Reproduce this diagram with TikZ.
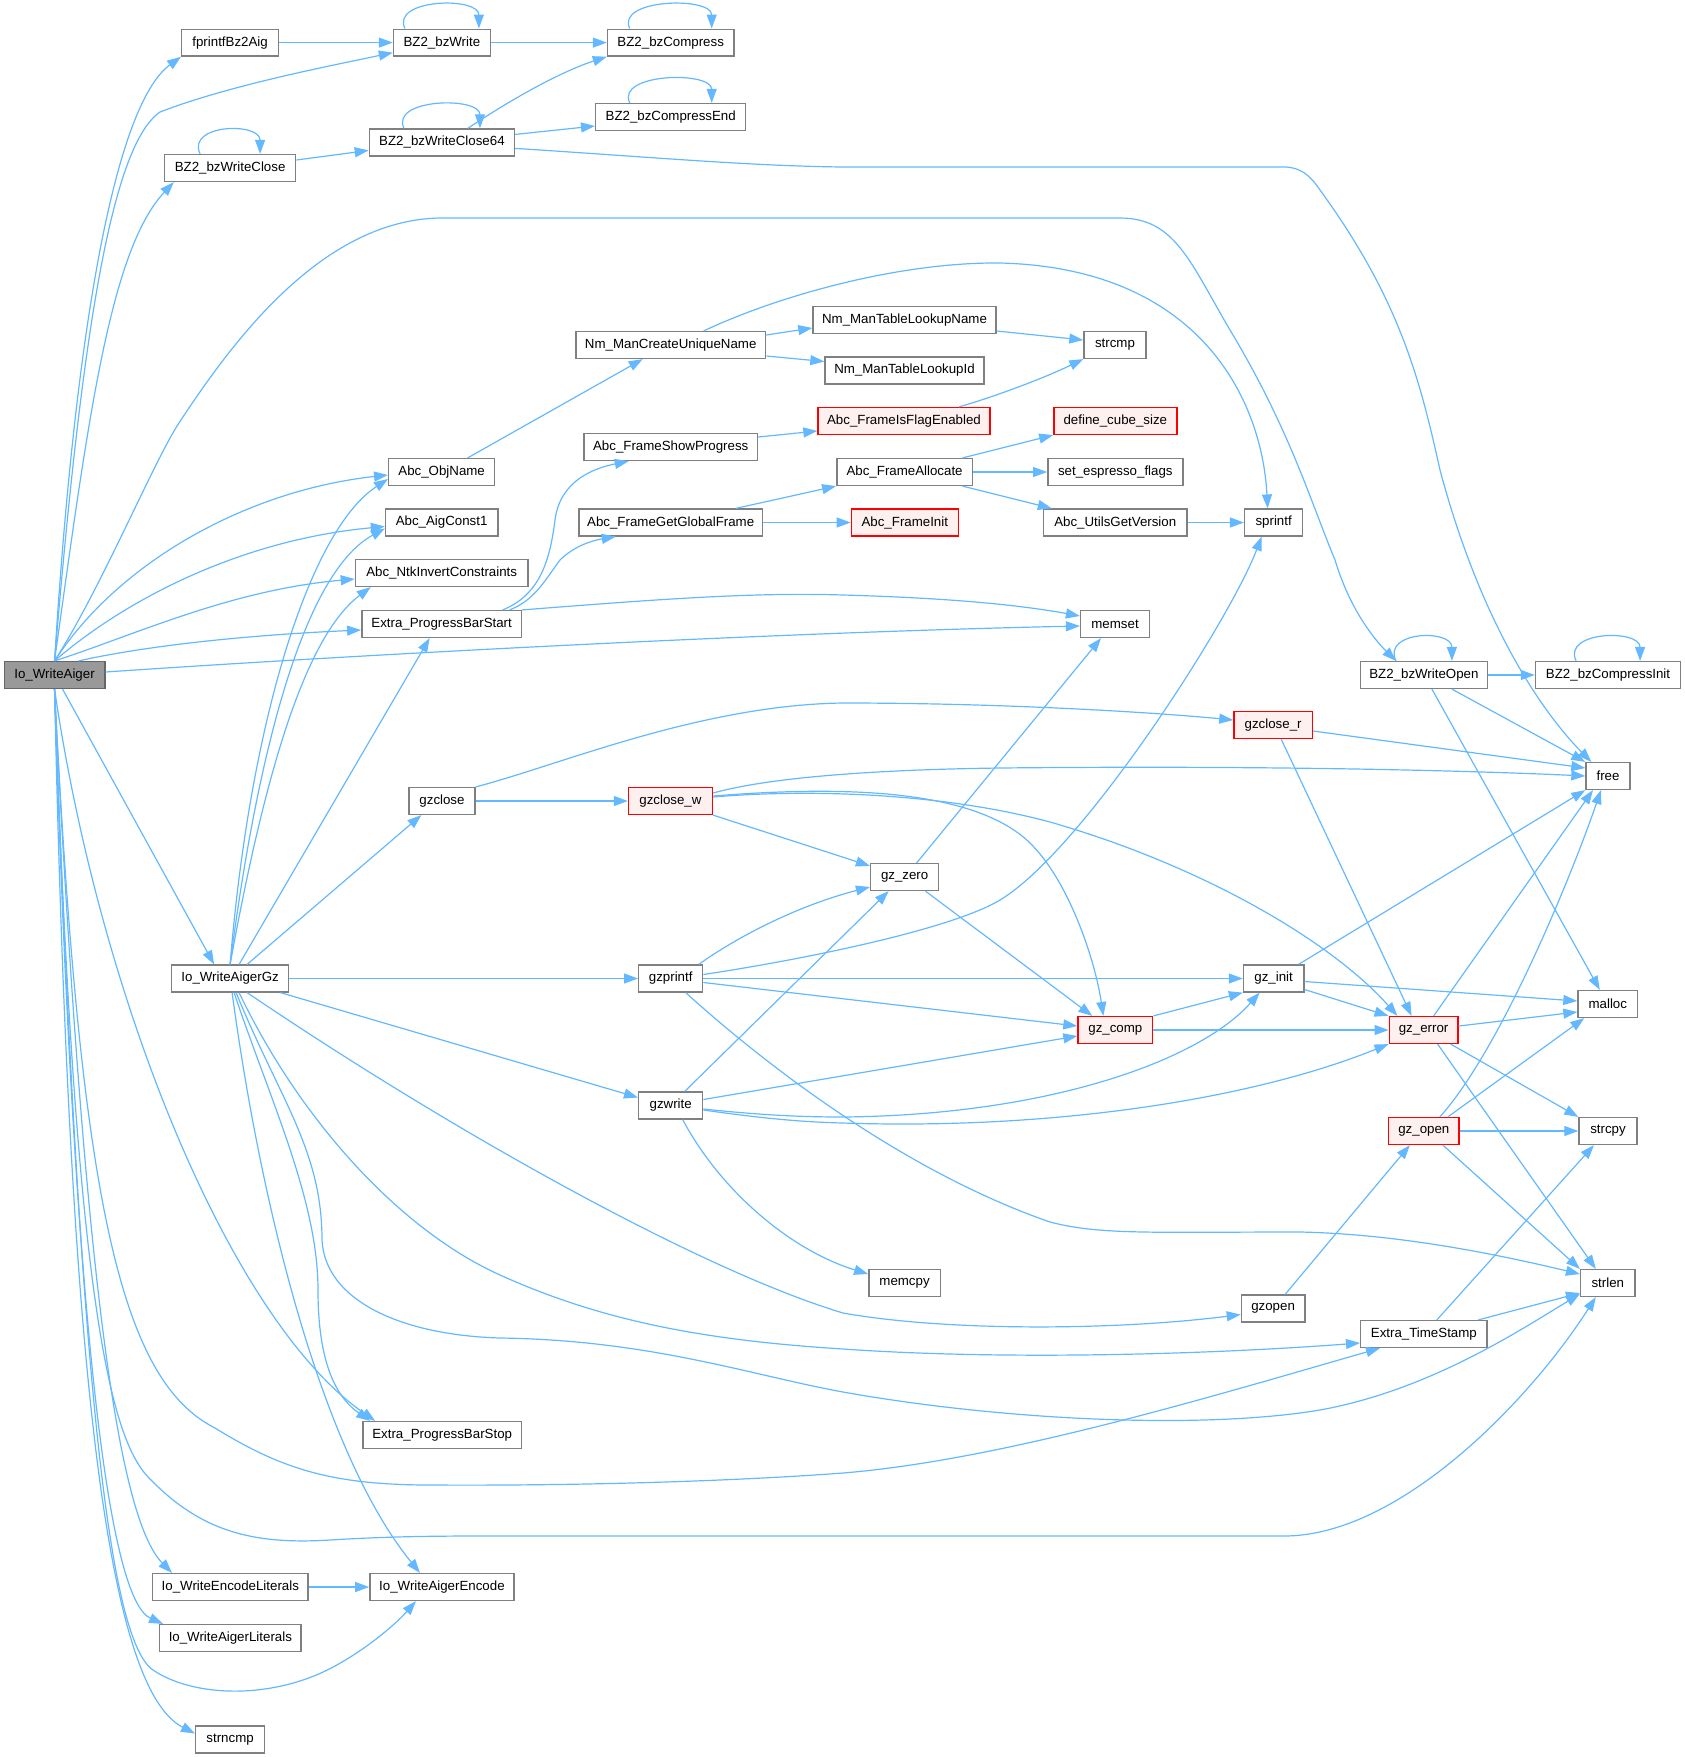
\documentclass[tikz,border=0pt]{standalone}
\usepackage{fontspec}
\setmainfont{Liberation Sans}
\usetikzlibrary{arrows.meta}
\definecolor{edgec}{HTML}{63B8FF}
\definecolor{boxc}{HTML}{808080}
\definecolor{rootfill}{HTML}{999999}
\definecolor{rootdraw}{HTML}{666666}
\definecolor{redfill}{HTML}{FFF0F0}
\definecolor{reddraw}{HTML}{FF0000}
\tikzset{
  fn/.style={draw=boxc, line width=0.7pt, fill=white, rectangle, minimum height=13.4pt, inner sep=0pt,
    font=\fontsize{6.65pt}{8pt}\selectfont},
  fnred/.style={fn, draw=reddraw, fill=redfill},
  fnroot/.style={fn, draw=rootdraw, fill=rootfill},
  ca/.style={draw=edgec, line width=0.6pt, -{Triangle[length=7pt,width=5pt]}},
}
\newcommand\fnode[6]{\node[#1, minimum width={(#4-#3)*0.5pt}] (#2) at ({(#3+#4)/2},#5) {#6};}
\newcommand\selfloop[2]{\draw[ca] ([xshift=-#2]#1.north) .. controls +(-7pt,15pt) and +(0pt,16pt) .. ([xshift=#2]#1.north);}
\begin{document}
\begin{tikzpicture}[x=0.5pt,y=-0.5pt]
\useasboundingbox (0,0) rectangle (1685,1757);
% nodes
\fnode{fnroot}{root}{4.3}{104.8}{675}{Io\_WriteAiger}
\fnode{fn}{fpr}{181.7}{278.5}{42.6}{fprintfBz2Aig}
\fnode{fn}{bzw}{393.5}{490.3}{42.6}{BZ2\_bzWrite}
\fnode{fn}{bzc}{607.5}{733.9}{42.6}{BZ2\_bzCompress}
\fnode{fn}{bzce}{595.7}{745.7}{117}{BZ2\_bzCompressEnd}
\fnode{fn}{bzwc64}{369.4}{514.5}{142.4}{BZ2\_bzWriteClose64}
\fnode{fn}{bzwc}{164.5}{295.7}{168}{BZ2\_bzWriteClose}
\fnode{fn}{nmcu}{575.8}{765.6}{345}{Nm\_ManCreateUniqueName}
\fnode{fn}{nmtln}{813}{996}{320}{Nm\_ManTableLookupName}
\fnode{fn}{nmtli}{825}{984}{370.5}{Nm\_ManTableLookupId}
\fnode{fn}{strcmp}{1084}{1146}{345}{strcmp}
\fnode{fnred}{isflag}{818}{990}{421}{Abc\_FrameIsFlagEnabled}
\fnode{fnred}{cube}{1053.8}{1176.9}{421}{define\_cube\_size}
\fnode{fn}{showp}{583.9}{757.5}{447}{Abc\_FrameShowProgress}
\fnode{fn}{objname}{388.7}{494.6}{472}{Abc\_ObjName}
\fnode{fn}{alloc}{836.8}{972.4}{472}{Abc\_FrameAllocate}
\fnode{fn}{espresso}{1047.8}{1182.8}{472}{set\_espresso\_flags}
\fnode{fn}{getglob}{579}{762.4}{522.5}{Abc\_FrameGetGlobalFrame}
\fnode{fn}{aigc1}{385.5}{497.8}{522.5}{Abc\_AigConst1}
\fnode{fnred}{finit}{851.4}{958.2}{522.5}{Abc\_FrameInit}
\fnode{fn}{utils}{1043.5}{1187}{522.5}{Abc\_UtilsGetVersion}
\fnode{fn}{sprintf}{1244.6}{1302.7}{522.5}{sprintf}
\fnode{fn}{ntkinv}{355.4}{528}{573}{Abc\_NtkInvertConstraints}
\fnode{fn}{pbstart}{361.8}{521.5}{624}{Extra\_ProgressBarStart}
\fnode{fn}{memset}{1080.6}{1149.5}{624}{memset}
\fnode{fn}{bzwo}{1360.2}{1487.6}{675}{BZ2\_bzWriteOpen}
\fnode{fn}{bzci}{1535.5}{1680.6}{675}{BZ2\_bzCompressInit}
\fnode{fnred}{gzcr}{1233.9}{1312.4}{725}{gzclose\_r}
\fnode{fn}{free}{1586}{1630}{776}{free}
\fnode{fn}{gzclose}{409}{475}{801}{gzclose}
\fnode{fnred}{gzcw}{628.5}{712.4}{801}{gzclose\_w}
\fnode{fn}{gzzero}{870.6}{938.7}{877}{gz\_zero}
\fnode{fn}{iogz}{171.5}{288.7}{978.5}{Io\_WriteAigerGz}
\fnode{fn}{gzprintf}{638.7}{702.7}{978.5}{gzprintf}
\fnode{fn}{gzinit}{1243.5}{1303.8}{978.5}{gz\_init}
\fnode{fn}{malloc}{1578}{1637.6}{1004}{malloc}
\fnode{fnred}{gzcomp}{1078}{1152.7}{1030}{gz\_comp}
\fnode{fnred}{gzerror}{1389.2}{1458}{1030}{gz\_error}
\fnode{fn}{gzwrite}{638.7}{702.7}{1105.5}{gzwrite}
\fnode{fnred}{gzopenb}{1388.7}{1459}{1131}{gz\_open}
\fnode{fn}{strcpy}{1579}{1637}{1131}{strcpy}
\fnode{fn}{memcpy}{868.8}{940.3}{1283}{memcpy}
\fnode{fn}{strlen}{1580.6}{1635}{1283}{strlen}
\fnode{fn}{gzopen}{1241.4}{1304.8}{1308.5}{gzopen}
\fnode{fn}{timestamp}{1360.7}{1487}{1334}{Extra\_TimeStamp}
\fnode{fn}{pbstop}{362.9}{521.5}{1435}{Extra\_ProgressBarStop}
\fnode{fn}{encl}{152.7}{308}{1587}{Io\_WriteEncodeLiterals}
\fnode{fn}{aigenc}{369.9}{514}{1587}{Io\_WriteAigerEncode}
\fnode{fn}{aiglit}{159.7}{301}{1638}{Io\_WriteAigerLiterals}
\fnode{fn}{strncmp}{195.7}{264.5}{1739.5}{strncmp}
% root edges (upwards)
\draw[ca] (root.north) .. controls (75,330) and (115,105) .. (fpr.south west);
\draw[ca] (root.north) .. controls (82,330) and (112,145) .. (160,112) .. controls (230,85) and (330,66) .. ([yshift=-5pt]bzw.west);
\draw[ca] (root.north) .. controls (88,420) and (110,250) .. ([xshift=5pt]bzwc.south west);
\draw[ca] (root.north) .. controls (100,590) and (150,470) .. (177,426) .. controls (230,345) and (320,220) .. (440,218) -- (1120,218) .. controls (1175,218) and (1190,262) .. (1230,330) .. controls (1290,430) and (1310,500) .. (1335,560) .. controls (1350,610) and (1375,640) .. ([xshift=-14pt]bzwo.north);
\draw[ca] (root.north) .. controls (120,560) and (250,490) .. ([yshift=-1.5pt]objname.west);
\draw[ca] (root.north) .. controls (125,600) and (240,540) .. ([yshift=-2pt]aigc1.west);
\draw[ca] (root.north) .. controls (135,635) and (230,590) .. ([yshift=-3pt]ntkinv.west);
\draw[ca] ([xshift=12pt]root.north) .. controls (150,645) and (250,635) .. ([yshift=-3pt]pbstart.west);
\draw[ca] ([yshift=1.5pt]root.east) .. controls (400,652) and (800,632) .. ([yshift=-1pt]memset.west);
% root edges (downwards)
\draw[ca] ([xshift=4pt]root.south) -- ([xshift=-8pt]iogz.north);
\draw[ca] (root.south) .. controls (100,1000) and (230,1320) .. ([xshift=6.5pt]pbstop.north west);
\draw[ca] (root.south) .. controls (80,1200) and (120,1380) .. (215,1428) .. controls (280,1468) and (330,1485) .. (430,1485) .. controls (600,1486) and (750,1480) .. (843,1473) .. controls (1000,1460) and (1200,1400) .. ([xshift=10pt]timestamp.south west);
\draw[ca] (root.south) .. controls (75,1300) and (110,1440) .. (150,1479) .. controls (200,1530) and (250,1545) .. (330,1540) .. controls (380,1537) and (420,1536) .. (480,1536) -- (1284,1536) .. controls (1400,1536) and (1530,1400) .. ([xshift=-6pt]strlen.south);
\draw[ca] (root.south) .. controls (85,1300) and (120,1520) .. ([xshift=10pt]encl.north west);
\draw[ca] (root.south) .. controls (75,1350) and (110,1600) .. ([xshift=2pt]aiglit.north west);
\draw[ca] (root.south) .. controls (80,1400) and (110,1640) .. (153,1670) .. controls (190,1695) and (260,1700) .. (321,1673) .. controls (360,1655) and (395,1625) .. ([xshift=-13pt]aigenc.south);
\draw[ca] (root.south) .. controls (70,1400) and (110,1690) .. ([yshift=3pt]strncmp.west);
% Io_WriteAigerGz edges
\draw[ca] (iogz.north) .. controls (250,720) and (310,530) .. ([yshift=-3.5pt]objname.west);
\draw[ca] (iogz.north) .. controls (255,770) and (300,575) .. ([yshift=-3pt]aigc1.west);
\draw[ca] (iogz.north) .. controls (260,800) and (300,640) .. ([xshift=8pt]ntkinv.south west);
\draw[ca] ([xshift=4.5pt]iogz.north) -- ([xshift=-6pt]pbstart.south);
\draw[ca] ([xshift=8.5pt]iogz.north) -- ([xshift=6.5pt]gzclose.south west);
\draw[ca] (iogz.east) -- (gzprintf.west);
\draw[ca] ([xshift=-4.5pt]iogz.south east) -- ([yshift=4pt]gzwrite.west);
\draw[ca] ([xshift=8.5pt]iogz.south) .. controls (450,1130) and (700,1270) .. (843,1313) .. controls (950,1332) and (1120,1330) .. ([yshift=-3pt]gzopen.west);
\draw[ca] ([xshift=4.5pt]iogz.south) .. controls (300,1120) and (400,1230) .. (500,1275) .. controls (600,1320) and (700,1340) .. (843,1349) .. controls (1000,1360) and (1200,1355) .. ([yshift=-4.5pt]timestamp.west);
\draw[ca] ([xshift=3pt]iogz.south) .. controls (280,1100) and (322,1150) .. (322,1240) .. controls (325,1300) and (400,1335) .. (500,1338) .. controls (650,1340) and (750,1375) .. (843,1392) .. controls (1000,1420) and (1200,1430) .. (1320,1410) .. controls (1430,1390) and (1520,1330) .. ([yshift=-5.5pt]strlen.west);
\draw[ca] ([xshift=2pt]iogz.south) .. controls (270,1100) and (318,1200) .. (318,1290) .. controls (318,1370) and (340,1400) .. ([xshift=4pt]pbstop.north west);
\draw[ca] ([xshift=1pt]iogz.south) .. controls (260,1200) and (320,1450) .. ([xshift=-11pt]aigenc.north);
% bz2 part
\draw[ca] (fpr.east) -- (bzw.west);
\draw[ca] (bzw.east) -- (bzc.west);
\draw[ca] ([yshift=4pt]bzwc.east) -- ([yshift=-4pt]bzwc64.west);
\draw[ca] ([xshift=13pt]bzwc64.north) .. controls (510,100) and (560,72) .. (bzc.south west);
\draw[ca] ([yshift=4pt]bzwc64.east) -- ([yshift=-4.5pt]bzce.west);
\draw[ca] ([yshift=-3pt]bzwc64.east) .. controls (650,157) and (750,166) .. (843,167) -- (1284,167) .. controls (1300,167) and (1310,175) .. (1320,190) .. controls (1400,300) and (1420,380) .. (1440,470) .. controls (1480,620) and (1540,710) .. ([xshift=3pt]free.north west);
\draw[ca] (bzwo.east) -- (bzci.west);
\draw[ca] ([xshift=14pt]bzwo.south) -- (free.north west);
\draw[ca] ([xshift=4pt]bzwo.south) -- ([xshift=-4pt]malloc.north);
\selfloop{bzw}{18.5pt}
\selfloop{bzc}{20.5pt}
\selfloop{bzce}{20.5pt}
\selfloop{bzwc}{15pt}
\selfloop{bzwc64}{19pt}
\selfloop{bzwo}{14pt}
\selfloop{bzci}{16pt}
% Abc part
\draw[ca] ([xshift=13pt]objname.north) -- ([xshift=-14pt]nmcu.south);
\draw[ca] ([yshift=5pt]nmcu.east) -- ([yshift=-4pt]nmtln.west);
\draw[ca] ([yshift=-5.5pt]nmcu.east) -- ([yshift=4.5pt]nmtli.west);
\draw[ca] ([xshift=16.5pt]nmcu.north) .. controls (780,295) and (900,262) .. (1000,263) .. controls (1200,268) and (1262,400) .. ([xshift=-3pt]sprintf.north);
\draw[ca] ([yshift=-5.5pt]nmtln.east) -- ([yshift=2.5pt]strcmp.west);
\draw[ca] ([xshift=27.5pt]isflag.north) .. controls (990,398) and (1040,380) .. (strcmp.south west);
\draw[ca] ([yshift=5pt]showp.east) -- ([yshift=-5pt]isflag.west);
\draw[ca] ([xshift=32.5pt]getglob.north) -- (alloc.south west);
\draw[ca] (getglob.east) -- (finit.west);
\draw[ca] ([xshift=29pt]alloc.north) -- (cube.south west);
\draw[ca] (alloc.east) -- (espresso.west);
\draw[ca] ([xshift=29pt]alloc.south) -- ([xshift=4.5pt]utils.north west);
\draw[ca] (utils.east) -- (sprintf.west);
\draw[ca] ([xshift=30.5pt]pbstart.north) .. controls (540,595) and (550,560) .. (555,520) .. controls (560,480) and (595,468) .. ([xshift=-21pt]showp.south);
\draw[ca] ([xshift=34pt]pbstart.north) .. controls (535,600) and (545,580) .. (560,560) .. controls (575,545) and (595,540) .. ([xshift=-27.5pt]getglob.south);
\draw[ca] (pbstart.north east) .. controls (650,600) and (750,592) .. (843,595) .. controls (950,598) and (1020,605) .. ([yshift=4pt]memset.west);
% gz part
\draw[ca] (gzclose.east) -- (gzcw.west);
\draw[ca] (gzclose.north east) .. controls (560,765) and (700,705) .. (843,703) .. controls (1000,703) and (1150,712) .. ([yshift=2.5pt]gzcr.west);
\draw[ca] ([yshift=-3pt]gzcr.east) -- ([yshift=4pt]free.west);
\draw[ca] ([xshift=4pt]gzcr.south) -- ([xshift=-6pt]gzerror.north);
\draw[ca] ([yshift=4pt]gzcw.east) .. controls (760,780) and (850,770) .. (1000,768) .. controls (1300,765) and (1500,772) .. (free.west);
\draw[ca] (gzcw.south east) -- ([yshift=-1.5pt]gzzero.north west);
\draw[ca] ([yshift=2.5pt]gzcw.east) .. controls (850,785) and (980,790) .. (1033,846) .. controls (1070,885) and (1095,960) .. ([xshift=-6pt]gzcomp.north);
\draw[ca] ([yshift=2pt]gzcw.east) .. controls (820,788) and (950,795) .. (1050,822) .. controls (1200,865) and (1330,940) .. ([xshift=4.5pt]gzerror.north west);
\draw[ca] ([xshift=6pt]gzzero.north) -- ([xshift=-7pt]memset.south);
\draw[ca] ([xshift=-7pt]gzzero.south east) -- ([xshift=7.5pt]gzcomp.north west);
\draw[ca] ([xshift=14pt]gzprintf.north) .. controls (740,935) and (800,905) .. ([yshift=-5pt]gzzero.west);
\draw[ca] ([yshift=2pt]gzprintf.east) .. controls (800,960) and (950,930) .. (1000,900) .. controls (1083,850) and (1230,620) .. ([xshift=-6pt]sprintf.south);
\draw[ca] (gzprintf.east) -- (gzinit.west);
\draw[ca] ([yshift=-2pt]gzprintf.east) -- ([yshift=2pt]gzcomp.west);
\draw[ca] ([xshift=7.5pt]gzprintf.south) .. controls (760,1060) and (900,1170) .. (1050,1222) .. controls (1100,1235) and (1150,1232) .. (1300,1232) .. controls (1400,1234) and (1500,1255) .. ([yshift=4.5pt]strlen.west);
\draw[ca] ([xshift=7pt]gzwrite.north) -- ([xshift=-8pt]gzzero.south);
\draw[ca] ([yshift=3pt]gzwrite.east) -- ([yshift=-3pt]gzcomp.west);
\draw[ca] ([yshift=-1.75pt]gzwrite.east) .. controls (760,1115) and (800,1117) .. (843,1117) .. controls (1050,1115) and (1200,1060) .. ([xshift=-7pt]gzinit.south);
\draw[ca] ([yshift=-2.25pt]gzwrite.east) .. controls (760,1118) and (800,1122) .. (843,1123) .. controls (1050,1130) and (1250,1100) .. (gzerror.south west);
\draw[ca] ([xshift=6pt]gzwrite.south) .. controls (720,1190) and (790,1250) .. ([yshift=4.5pt]memcpy.west);
\draw[ca] (gzcomp.north east) -- (gzinit.south west);
\draw[ca] (gzcomp.east) -- (gzerror.west);
\draw[ca] ([xshift=-3pt]gzinit.north east) -- (free.south west);
\draw[ca] ([yshift=-1.5pt]gzinit.east) -- ([yshift=1.5pt]malloc.west);
\draw[ca] ([yshift=-5.5pt]gzinit.east) -- (gzerror.north west);
\draw[ca] ([xshift=5pt]gzerror.north) -- ([xshift=-7.5pt]free.south);
\draw[ca] ([yshift=2pt]gzerror.east) -- ([yshift=-4pt]malloc.west);
\draw[ca] ([xshift=-4pt]gzerror.south east) -- (strcpy.north west);
\draw[ca] ([xshift=7pt]gzerror.south) -- ([xshift=-6pt]strlen.north);
\draw[ca] ([xshift=8pt]gzopenb.north) .. controls (1500,1050) and (1570,880) .. ([xshift=-3.5pt]free.south);
\draw[ca] ([xshift=12pt]gzopenb.north) -- ([xshift=3.5pt]malloc.south west);
\draw[ca] (gzopenb.east) -- (strcpy.west);
\draw[ca] ([xshift=9.5pt]gzopenb.south) -- (strlen.north west);
\draw[ca] ([xshift=6pt]gzopen.north) -- ([xshift=-7pt]gzopenb.south);
\draw[ca] ([xshift=6.5pt]timestamp.north) -- ([xshift=-7pt]strcpy.south);
\draw[ca] ([xshift=-4.7pt]timestamp.north east) -- ([yshift=-5pt]strlen.west);
\draw[ca] (encl.east) -- (aigenc.west);
\end{tikzpicture}
\end{document}
